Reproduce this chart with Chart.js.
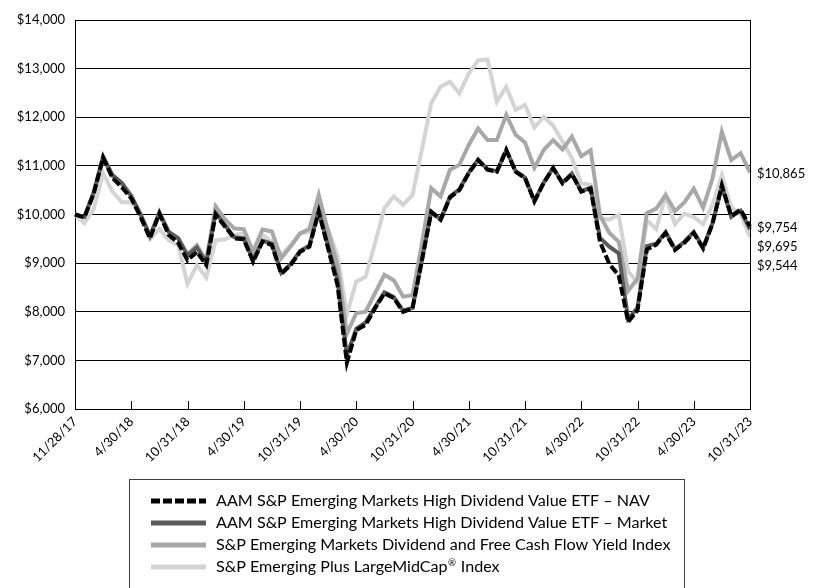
<!DOCTYPE html>
<html><head><meta charset="utf-8">
<script src="https://cdn.jsdelivr.net/npm/chart.js@4"></script>
<style>html,body{margin:0;padding:0;background:#fff;}canvas{display:block;}</style>
</head><body>
<canvas id="c" width="814" height="588"></canvas>
<script>
const dates = ['11/28/17','11/30/17','12/31/17',
'1/31/18','2/28/18','3/31/18','4/30/18','5/31/18','6/30/18','7/31/18','8/31/18','9/30/18','10/31/18','11/30/18','12/31/18',
'1/31/19','2/28/19','3/31/19','4/30/19','5/31/19','6/30/19','7/31/19','8/31/19','9/30/19','10/31/19','11/30/19','12/31/19',
'1/31/20','2/29/20','3/31/20','4/30/20','5/31/20','6/30/20','7/31/20','8/31/20','9/30/20','10/31/20','11/30/20','12/31/20',
'1/31/21','2/28/21','3/31/21','4/30/21','5/31/21','6/30/21','7/31/21','8/31/21','9/30/21','10/31/21','11/30/21','12/31/21',
'1/31/22','2/28/22','3/31/22','4/30/22','5/31/22','6/30/22','7/31/22','8/31/22','9/30/22','10/31/22','11/30/22','12/31/22',
'1/31/23','2/28/23','3/31/23','4/30/23','5/31/23','6/30/23','7/31/23','8/31/23','9/30/23','10/31/23'];

const navValues = [10000,9940,10430,11170,10750,10560,10330,9950,9510,10020,9580,9420,9060,9230,8960,
10000,9750,9510,9490,9030,9440,9370,8780,8960,9230,9340,10060,
9300,8550,6950,7620,7730,8070,8380,8280,8000,8070,9050,10050,
9890,10350,10500,10850,11120,10920,10880,11330,10880,10750,10270,10650,
10950,10640,10830,10470,10530,9440,8980,8750,7790,8030,9280,9380,
9620,9270,9420,9620,9300,9810,10600,9970,10100,9754];

const marketValues = [10000,9950,10460,11190,10810,10650,10380,10000,9560,10030,9640,9510,9160,9320,9010,
10030,9780,9530,9510,9050,9460,9400,8800,8980,9250,9360,10080,
9350,8650,7100,7650,7780,8090,8400,8300,8020,8080,9060,10060,
9900,10370,10520,10860,11130,10930,10890,11320,10890,10760,10280,10660,
10960,10650,10840,10480,10550,9520,9340,9200,7850,8080,9350,9400,
9640,9290,9440,9640,9320,9820,10580,9950,10080,9695];

const fcfValues = [10000,9950,10450,11150,10780,10620,10380,10000,9560,10050,9640,9520,9180,9370,9040,
10170,9900,9710,9700,9240,9690,9650,9100,9340,9610,9700,10400,
9650,8950,7550,7970,8000,8380,8760,8650,8310,8340,9400,10540,
10370,10920,11020,11430,11770,11530,11530,12050,11640,11480,10960,11330,
11530,11340,11600,11200,11320,9980,9620,9440,8430,8680,10030,10120,
10400,10070,10250,10530,10140,10740,11700,11120,11260,10865];

const lmcValues = [10000,9820,10120,10850,10470,10250,10250,10000,9500,9700,9470,9370,8570,8960,8700,
9470,9490,9580,9610,9230,9580,9440,9160,9370,9610,9640,9950,
9700,9150,7950,8620,8720,9410,10130,10370,10200,10400,11330,12290,
12630,12730,12490,12900,13170,13190,12320,12630,12150,12250,11790,12010,
11830,11500,11160,10640,10610,9920,9900,9990,8830,8600,9880,9700,
10380,9800,10020,9950,9800,10200,10810,10150,10000,9544];

const seriesNames = [
  'AAM S&P Emerging Markets High Dividend Value ETF \u2013 NAV',
  'AAM S&P Emerging Markets High Dividend Value ETF \u2013 Market',
  'S&P Emerging Markets Dividend and Free Cash Flow Yield Index',
  'S&P Emerging Plus LargeMidCap\u00AE Index'
];
const endLabels = ['$9,754','$9,695','$10,865','$9,544'];

const FONT = 'Lato, "Liberation Sans", sans-serif';
Chart.defaults.font.family = FONT;
Chart.defaults.font.size = 13;
Chart.defaults.color = '#000';

const fmt = v => '$' + Number(v).toLocaleString('en-US');

const frame = {
  id: 'frame',
  afterDatasetsDraw(chart) {
    const {ctx, chartArea: a, scales: {x}} = chart;
    ctx.save();
    ctx.strokeStyle = '#000';
    ctx.lineWidth = 1;
    ctx.beginPath();
    const rx = Math.round(a.right) + 0.5;
    ctx.moveTo(rx, a.top); ctx.lineTo(rx, a.bottom);
    for (let i = 0; i < dates.length; i += 6) {
      const px = Math.round(x.getPixelForValue(i)) + 0.5;
      ctx.moveTo(px, a.bottom); ctx.lineTo(px, a.bottom - 8);
    }
    ctx.stroke();
    ctx.restore();
  },
  afterDraw(chart) {
    const {ctx, chartArea: a, scales: {y}} = chart;
    ctx.save();
    const items = chart.data.datasets.map((d, i) => ({v: d.data[d.data.length - 1], t: endLabels[i]}));
    items.sort((p, q) => q.v - p.v);
    let prev = -1e9;
    ctx.font = '13px ' + FONT;
    ctx.fillStyle = '#000';
    ctx.textAlign = 'left';
    ctx.textBaseline = 'middle';
    items.forEach(it => {
      const py = Math.max(y.getPixelForValue(it.v) + 1, prev + 19);
      ctx.fillText(it.t, a.right + 7, py);
      prev = py;
    });
    const bx = 129.5, by = 479.5, bw = 555, bh = 130;
    ctx.strokeStyle = '#404040';
    ctx.lineWidth = 1;
    ctx.strokeRect(bx, by, bw, bh);
    let fs = 14.5;
    ctx.font = fs + 'px ' + FONT;
    const wmax = ctx.measureText(seriesNames[2]).width;
    fs = fs * 455 / wmax;
    chart.data.datasets.forEach((d, i) => {
      const ry = 501 + i * 22;
      ctx.save();
      ctx.strokeStyle = d.borderColor;
      ctx.lineWidth = 5;
      ctx.setLineDash(d.borderDash || []);
      ctx.lineCap = 'butt';
      ctx.beginPath();
      ctx.moveTo(151, ry); ctx.lineTo(206, ry);
      ctx.stroke();
      ctx.restore();
      ctx.fillStyle = '#000';
      ctx.textBaseline = 'middle';
      const name = seriesNames[i];
      const k = name.indexOf('\u00AE');
      ctx.font = fs + 'px ' + FONT;
      if (k < 0) {
        ctx.fillText(name, 216, ry);
      } else {
        const pre = name.slice(0, k), post = name.slice(k + 1);
        ctx.fillText(pre, 216, ry);
        let xx = 216 + ctx.measureText(pre).width + 0.5;
        ctx.font = (fs * 0.6) + 'px ' + FONT;
        ctx.fillText('\u00AE', xx, ry - fs * 0.28);
        xx += ctx.measureText('\u00AE').width + 0.5;
        ctx.font = fs + 'px ' + FONT;
        ctx.fillText(post, xx, ry);
      }
    });
    ctx.restore();
  }
};

new Chart(document.getElementById('c'), {
  type: 'line',
  data: {
    labels: dates,
    datasets: [
      {label: seriesNames[0], data: navValues, borderColor: '#000000', borderWidth: 4, borderDash: [9, 3], pointRadius: 0},
      {label: seriesNames[1], data: marketValues, borderColor: '#5a5a5a', borderWidth: 4, pointRadius: 0},
      {label: seriesNames[2], data: fcfValues, borderColor: '#a8a8a8', borderWidth: 4, pointRadius: 0},
      {label: seriesNames[3], data: lmcValues, borderColor: '#d4d4d4', borderWidth: 4, pointRadius: 0}
    ]
  },
  options: {
    responsive: false,
    animation: false,
    events: [],
    layout: {padding: {left: 0, right: 64, top: 20, bottom: 0}},
    plugins: {legend: {display: false}, tooltip: {enabled: false}},
    elements: {line: {tension: 0, borderCapStyle: 'butt', borderJoinStyle: 'miter'}},
    scales: {
      x: {
        type: 'category',
        offset: false,
        grid: {display: false, drawTicks: false},
        border: {display: true, color: '#000', width: 1},
        ticks: {
          autoSkip: false, maxRotation: 45, minRotation: 45, padding: 5,
          font: {size: 13},
          callback: function(v, i) { return i % 6 === 0 ? dates[i] : null; }
        },
        afterFit: s => { s.height = 588 - 409; }
      },
      y: {
        min: 6000, max: 14000,
        grid: {color: '#000', lineWidth: 1, drawTicks: false},
        border: {display: true, color: '#000', width: 1},
        ticks: {stepSize: 1000, padding: 10, font: {size: 13}, callback: v => fmt(v)},
        afterFit: s => { s.width = 75; }
      }
    }
  },
  plugins: [frame]
});
</script>
</body></html>
